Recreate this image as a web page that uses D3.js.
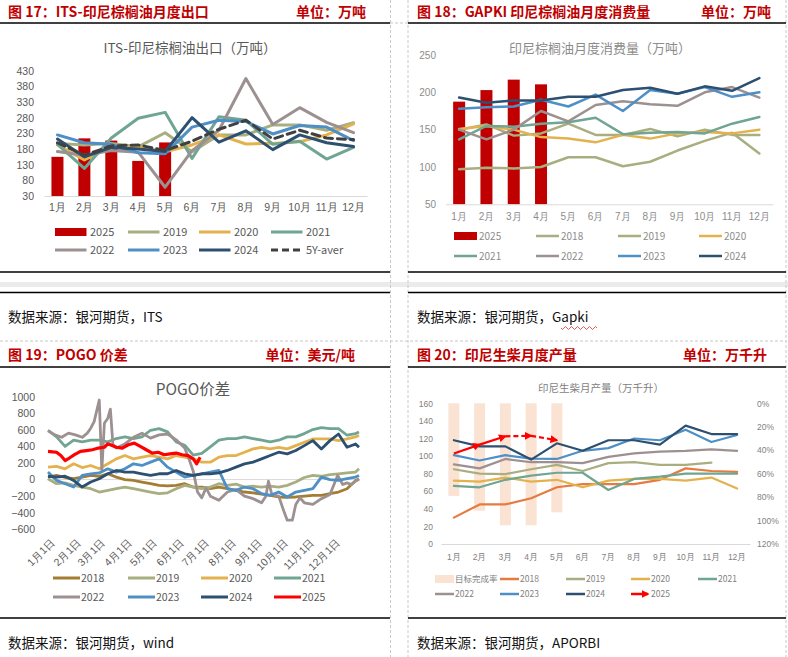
<!DOCTYPE html>
<html>
<head>
<meta charset="utf-8">
<script src="https://cdn.jsdelivr.net/npm/d3@7"></script>
<style>
  body { margin: 0; background: #fff; }
  svg { display: block; font-family: "Noto Sans CJK SC", "Noto Sans", sans-serif; }
</style>
</head>
<body>
<svg id="chart" width="788" height="657"></svg>
<script>
const months = ["1月", "2月", "3月", "4月", "5月", "6月", "7月", "8月", "9月", "10月", "11月", "12月"];

// fig 17: ITS export
const its2025 = [155, 214, 207, 142, 201];
const its2019 = [198, 193, 198, 187, 232, 171, 225, 225, 257, 257, 240, 264];
const its2020 = [193, 145, 187, 187, 171, 193, 225, 196, 198, 203, 225, 260];
const its2021 = [195, 118, 215, 278, 297, 150, 283, 272, 195, 205, 148, 185];
const its2022 = [172, 160, 175, 170, 58, 175, 240, 405, 258, 312, 265, 232];
const its2023 = [225, 200, 195, 168, 165, 250, 272, 268, 228, 255, 250, 207];
const its2024 = [212, 155, 185, 180, 172, 280, 202, 238, 178, 225, 200, 188];
const its5y = [200, 160, 190, 193, 175, 205, 243, 272, 212, 240, 215, 210];
const itsTicks = [30, 80, 130, 180, 230, 280, 330, 380, 430];

// fig 18: GAPKI consumption
const gap2025 = [187.5, 203, 217, 210.7];
const gap2018 = [97, 99, 98, 100, 113, 113, 101, 107, 122, 135, 146, 118];
const gap2019 = [150, 157, 142, 145, 158, 143, 143, 151, 141, 150, 143, 143];
const gap2020 = [151, 155, 150, 140, 138, 133, 143, 138, 145, 147, 145, 150];
const gap2021 = [137, 155, 154, 158, 160, 166, 144, 146, 147, 145, 158, 167];
const gap2022 = [150, 137, 150, 175, 161, 183, 188, 184, 182, 200, 207, 193];
const gap2023 = [178, 180, 181, 190, 181, 197, 175, 203, 198, 207, 194, 200];
const gap2024 = [193, 186, 189, 189, 194, 194, 203, 206, 198, 208, 202, 219];
const gapTicks = [50, 100, 150, 200, 250];

// fig 19: POGO spread (day of year)
const pogoDays = [0, 10, 20, 30, 40, 50, 60, 70, 80, 90, 100, 110, 120, 130, 140, 150, 160, 170, 180, 190,
  200, 210, 220, 230, 240, 250, 260, 270, 280, 290, 300, 310, 320, 330, 340, 350, 360, 364];
const pogo2018 = [30, 50, 25, 10, 30, 50, 40, 70, 30, 0, -10, -30, -50, -70, -75, -70, -50, -90, -90, -110,
  -90, -110, -130, -150, -160, -175, -190, -210, -215, -210, -200, -190, -190, -170, -150, -110, -10, 0];
const pogo2019 = [10, -50, -40, -70, -90, -110, -150, -130, -110, -90, -110, -130, -150, -170, -160, -110, -70, -90, -110, -90,
  -50, -70, -55, -90, -80, -90, -80, -90, -70, -30, 25, 50, 40, 60, 70, 80, 90, 130];
const pogo2020 = [150, 160, 130, 190, 145, 170, 130, 190, 250, 290, 250, 270, 290, 270, 250, 290, 270, 250, 210, 210,
  270, 290, 290, 330, 370, 390, 370, 390, 370, 410, 450, 490, 490, 490, 470, 490, 515, 535];
const pogo2021 = [595, 515, 400, 475, 455, 475, 475, 455, 495, 515, 495, 515, 595, 615, 575, 455, 415, 295, 315, 395,
  475, 495, 495, 515, 495, 475, 455, 475, 515, 515, 555, 603, 627, 615, 615, 535, 555, 575];
const pogo2023 = [90, -10, -50, -90, 50, 70, 80, 130, 90, 130, 190, 170, 210, 250, 150, 90, 30, 50, 70, 90,
  110, -110, -130, -90, -110, -170, -190, -150, -210, -150, -130, -110, 30, 0, -10, 10, 30, 50];
const pogo2024 = [40, 30, 40, -10, -90, -30, 10, 70, 110, 90, 90, 70, 50, 70, 70, 110, 70, 50, 70, 70,
  80, 110, 150, 190, 210, 250, 290, 330, 310, 350, 410, 470, 370, 470, 550, 390, 430, 390];
const pogo22Days = [0, 8, 16, 24, 32, 40, 46, 50, 54, 57, 60, 63, 66, 70, 73, 76, 80, 90, 100, 110,
  120, 130, 140, 150, 160, 165, 170, 175, 180, 185, 190, 200, 210, 220, 230, 240, 250, 255, 258, 262,
  270, 276, 280, 286, 290, 295, 300, 310, 320, 330, 339, 345, 350, 355, 360, 364];
const pogo2022 = [590, 540, 510, 560, 540, 510, 560, 620, 700, 830, 960, 110, 680, 740, 850, 420, 380, 430, 510, 560,
  500, 540, 550, 480, 380, 250, 100, -150, -220, -100, -200, -250, -150, -120, -200, -230, -280, -200, -20, -180,
  -200, -380, -490, -490, -300, -220, -280, -300, -230, -180, 50, -60, -40, -60, -20, 10];
const pogo25Days = [0, 5, 10, 15, 20, 25, 31, 38, 45, 52, 59, 66, 70, 73, 80, 87, 94, 101, 108, 115,
  122, 129, 136, 143, 150, 157, 164, 170, 174, 178];
const pogo2025 = [340, 335, 330, 290, 230, 260, 300, 340, 350, 360, 380, 390, 430, 420, 390, 380, 420, 440, 400, 360,
  320, 330, 300, 310, 320, 300, 290, 250, 190, 270];
const pogoTickDays = [0, 31, 59, 90, 120, 151, 181, 212, 243, 273, 304, 334];
const pogoTickLabels = ["1月1日", "2月1日", "3月1日", "4月1日", "5月1日", "6月1日", "7月1日", "8月1日", "9月1日", "10月1日", "11月1日", "12月1日"];
const pogoTicks = [-600, -400, -200, 0, 200, 400, 600, 800, 1000];

// fig 20: biodiesel output
const bioTarget = [0.79, 0.916, 1.04, 1.04, 0.93];
const bio2018 = [30, 45, 45, 52, 64.5, 68, 68, 68, 73, 86, 83, 82];
const bio2019 = [85, 80, 79.5, 85, 90, 83, 92, 93, 90, 90, 92.5];
const bio2020 = [72, 71, 75.5, 71, 73, 64.5, 72, 74, 74, 72, 75.5, 63];
const bio2021 = [66, 64.5, 73, 77.7, 81, 81, 61.4, 74, 76.6, 80, 80, 80];
const bio2022 = [90.6, 86, 96.7, 93, 93, 92, 99, 103, 105, 106, 107.7, 106];
const bio2023 = [101, 95, 101, 97, 96.7, 106, 109, 120, 118, 130, 116, 124];
const bio2024 = [118, 111, 111, 96, 114.5, 106, 118, 118, 113, 134.6, 125, 125];
const bio2025 = [103, 113, 122.5, 123, 118];
const bioTicks = [0, 20, 40, 60, 80, 100, 120, 140, 160];
const bioPctTicks = [0, 0.2, 0.4, 0.6, 0.8, 1.0, 1.2];

const C = {
  red: "#c00000", y2018: "#a47c33", olive: "#a9ae80", gold: "#e3b24f", teal: "#6fa592",
  mauve: "#9d9090", blue: "#4e8fc6", navy: "#2d4f70", orange: "#e57b3f", peach: "#fbe3d4"
};

const svg = d3.select("#chart");

// ---------- frame ----------
const frame = svg.append("g");
frame.append("rect").attr("x", 0).attr("y", 282).attr("width", 788).attr("height", 5).attr("fill", "#ebebeb");
for (const x of [390.5, 408, 786]) {
  frame.append("line").attr("x1", x).attr("x2", x).attr("y1", 0).attr("y2", 657)
    .attr("stroke", "#c8c8c8").attr("stroke-dasharray", "3 2");
}
frame.append("line").attr("x1", 0).attr("x2", 786).attr("y1", 341).attr("y2", 341)
  .attr("stroke", "#c8c8c8").attr("stroke-dasharray", "3 2");
frame.append("line").attr("x1", 390).attr("x2", 408).attr("y1", 23).attr("y2", 23)
  .attr("stroke", "#c8c8c8").attr("stroke-dasharray", "3 2");
for (const [a, b] of [[0, 390], [408, 786]]) {
  for (const y of [23, 272, 292.5, 367, 618]) {
    frame.append("line").attr("x1", a).attr("x2", b).attr("y1", y).attr("y2", y)
      .attr("stroke", "#000").attr("stroke-width", 1.3);
  }
}

function header(x, xr, y, title, unit) {
  svg.append("text").attr("x", x).attr("y", y).attr("dy", "0.35em")
    .attr("fill", C.red).attr("font-weight", "bold").attr("font-size", 14).text(title);
  svg.append("text").attr("x", xr).attr("y", y).attr("dy", "0.35em").attr("text-anchor", "end")
    .attr("fill", C.red).attr("font-weight", "bold").attr("font-size", 14).text(unit);
}
header(8, 366, 12, "图 17：ITS-印尼棕榈油月度出口", "单位：万吨");
header(417, 771, 12, "图 18：GAPKI 印尼棕榈油月度消费量", "单位：万吨");
header(8, 355, 355, "图 19：POGO 价差", "单位：美元/吨");
header(417, 767, 355, "图 20：印尼生柴月度产量", "单位：万千升");

function source(x, y, txt) {
  return svg.append("text").attr("x", x).attr("y", y).attr("dy", "0.35em")
    .attr("font-size", 13.5).attr("fill", "#111").text(txt);
}
source(8, 317, "数据来源：银河期货，ITS");
source(417, 317, "数据来源：银河期货，Gapki");
source(8, 643, "数据来源：银河期货，wind");
source(417, 643, "数据来源：银河期货，APORBI");
// spell-check squiggle under "Gapki"
{
  let d = "M561,328";
  for (let i = 0; i < 12; i++) d += `l1.5,${i % 2 ? -1.5 : 1.5}l1.5,${i % 2 ? 1.5 : -1.5}`;
  svg.append("path").attr("d", d).attr("fill", "none").attr("stroke", "#e03030").attr("stroke-width", 0.8);
}

function styleAxis(g, size, color) {
  g.selectAll("text").attr("font-size", size).attr("fill", color).attr("font-family", null);
  g.selectAll(".tick line").remove();
}

function monthLine(g, x, y, values, color, width, dash) {
  const line = d3.line().x((d, i) => x(months[i]) + x.bandwidth() / 2).y(d => y(d));
  g.append("path").datum(values).attr("fill", "none").attr("stroke", color)
    .attr("stroke-width", width).attr("stroke-linejoin", "round").attr("stroke-linecap", "round")
    .attr("stroke-dasharray", dash || null).attr("d", line);
}

function legend(g, items, cols, rows, sw, gap, size, color, lw) {
  items.forEach((it, i) => {
    const x0 = cols[i % cols.length], y0 = rows[Math.floor(i / cols.length)];
    if (it.type === "bar") {
      g.append("rect").attr("x", x0).attr("y", y0 - 4).attr("width", sw).attr("height", 8).attr("fill", it.color);
    } else if (it.type === "arrow") {
      g.append("line").attr("x1", x0).attr("x2", x0 + sw - 2).attr("y1", y0).attr("y2", y0)
        .attr("stroke", it.color).attr("stroke-width", lw).attr("marker-end", "url(#arrowRed)");
    } else {
      g.append("line").attr("x1", x0).attr("x2", x0 + sw).attr("y1", y0).attr("y2", y0)
        .attr("stroke", it.color).attr("stroke-width", lw).attr("stroke-dasharray", it.dash || null);
    }
    g.append("text").attr("x", x0 + gap).attr("y", y0).attr("dy", "0.35em")
      .attr("font-size", size).attr("fill", color).text(it.name);
  });
}

// ---------- fig 17 ----------
{
  const g = svg.append("g");
  const x = d3.scaleBand().domain(months).range([44, 367]);
  const y = d3.scaleLinear().domain([30, 430]).range([196, 70.7]);
  g.append("text").attr("x", 190).attr("y", 48).attr("dy", "0.35em").attr("text-anchor", "middle")
    .attr("font-size", 13.5).attr("fill", "#595959").text("ITS-印尼棕榈油出口（万吨）");
  const ay = g.append("g").attr("transform", "translate(37,0)")
    .call(d3.axisLeft(y).tickValues(itsTicks).tickSize(0).tickPadding(3));
  ay.select(".domain").remove();
  styleAxis(ay, 10.5, "#595959");
  g.selectAll("rect.bar").data(its2025).join("rect").attr("class", "bar")
    .attr("x", (d, i) => x(months[i]) + x.bandwidth() / 2 - 6).attr("width", 12)
    .attr("y", d => y(d)).attr("height", d => y(30) - y(d)).attr("fill", C.red);
  const ax = g.append("g").attr("transform", "translate(0,196)")
    .call(d3.axisBottom(x).tickSize(0).tickPadding(8));
  ax.select(".domain").attr("stroke", "#d9d9d9");
  styleAxis(ax, 10.5, "#595959");
  monthLine(g, x, y, its2019, C.olive, 3);
  monthLine(g, x, y, its2020, C.gold, 3);
  monthLine(g, x, y, its2021, C.teal, 3);
  monthLine(g, x, y, its2022, C.mauve, 3);
  monthLine(g, x, y, its2023, C.blue, 3);
  monthLine(g, x, y, its2024, C.navy, 3);
  monthLine(g, x, y, its5y, "#404040", 3, "8 5");
  legend(g, [
    { name: "2025", type: "bar", color: C.red }, { name: "2019", color: C.olive },
    { name: "2020", color: C.gold }, { name: "2021", color: C.teal },
    { name: "2022", color: C.mauve }, { name: "2023", color: C.blue },
    { name: "2024", color: C.navy }, { name: "5Y-aver", color: "#404040", dash: "7 4" }
  ], [55, 128, 199, 271], [232, 250], 31.5, 35, 11, "#595959", 3);
}

// ---------- fig 18 ----------
{
  const g = svg.append("g");
  const x = d3.scaleBand().domain(months).range([445.5, 773]);
  const y = d3.scaleLinear().domain([50, 250]).range([204.3, 55]);
  g.append("text").attr("x", 600).attr("y", 48).attr("dy", "0.35em").attr("text-anchor", "middle")
    .attr("font-size", 13).attr("fill", "#8c8c8c").text("印尼棕榈油月度消费量（万吨）");
  const ay = g.append("g").attr("transform", "translate(439,0)")
    .call(d3.axisLeft(y).tickValues(gapTicks).tickSize(0).tickPadding(3));
  ay.select(".domain").remove();
  styleAxis(ay, 10, "#8c8c8c");
  g.selectAll("rect.bar").data(gap2025).join("rect").attr("class", "bar")
    .attr("x", (d, i) => x(months[i]) + x.bandwidth() / 2 - 6).attr("width", 12)
    .attr("y", d => y(d)).attr("height", d => y(50) - y(d)).attr("fill", C.red);
  const ax = g.append("g").attr("transform", "translate(0,204.3)")
    .call(d3.axisBottom(x).tickSize(0).tickPadding(9));
  ax.select(".domain").attr("stroke", "#d9d9d9");
  styleAxis(ax, 10, "#8c8c8c");
  monthLine(g, x, y, gap2018, C.olive, 2.5);
  monthLine(g, x, y, gap2019, C.olive, 2.5);
  monthLine(g, x, y, gap2020, C.gold, 2.5);
  monthLine(g, x, y, gap2021, C.teal, 2.5);
  monthLine(g, x, y, gap2022, C.mauve, 2.5);
  monthLine(g, x, y, gap2023, C.blue, 2.5);
  monthLine(g, x, y, gap2024, C.navy, 2.5);
  legend(g, [
    { name: "2025", type: "bar", color: C.red }, { name: "2018", color: C.olive },
    { name: "2019", color: C.olive }, { name: "2020", color: C.gold },
    { name: "2021", color: C.teal }, { name: "2022", color: C.mauve },
    { name: "2023", color: C.blue }, { name: "2024", color: C.navy }
  ], [454, 536, 618, 699], [236, 256], 23, 25, 10, "#8c8c8c", 2.5);
}

// ---------- fig 19 ----------
{
  const g = svg.append("g");
  const x = d3.scaleLinear().domain([0, 364]).range([48, 359]);
  const y = d3.scaleLinear().domain([-600, 1000]).range([529.3, 396.7]);
  g.append("text").attr("x", 193).attr("y", 390).attr("dy", "0.35em").attr("text-anchor", "middle")
    .attr("font-size", 15.5).attr("fill", "#595959").text("POGO价差");
  const ay = g.append("g").attr("transform", "translate(38,0)")
    .call(d3.axisLeft(y).tickValues(pogoTicks).tickSize(0).tickPadding(3).tickFormat(d3.format("d")));
  ay.select(".domain").remove();
  styleAxis(ay, 10.5, "#595959");
  g.append("line").attr("x1", 47).attr("x2", 360).attr("y1", y(0)).attr("y2", y(0)).attr("stroke", "#d9d9d9");
  const ax = g.append("g").attr("transform", "translate(0,533)")
    .call(d3.axisBottom(x).tickValues(pogoTickDays).tickSize(0).tickFormat((d, i) => pogoTickLabels[i]));
  ax.select(".domain").remove();
  ax.selectAll("text").attr("font-size", 10.5).attr("fill", "#595959").attr("font-family", null)
    .attr("text-anchor", "end").attr("transform", "translate(1,4) rotate(-45)").attr("y", 0).attr("dy", "0.8em");
  const series = [
    [pogoDays, pogo2018, C.y2018], [pogoDays, pogo2019, C.olive], [pogoDays, pogo2020, C.gold],
    [pogoDays, pogo2021, C.teal], [pogo22Days, pogo2022, C.mauve], [pogoDays, pogo2023, C.blue],
    [pogoDays, pogo2024, C.navy], [pogo25Days, pogo2025, "#ff0000"]
  ];
  for (const [days, vals, color] of series) {
    const line = d3.line().x((d, i) => x(days[i])).y(d => y(d));
    g.append("path").datum(vals).attr("fill", "none").attr("stroke", color)
      .attr("stroke-width", color === "#ff0000" ? 3.2 : 2.8).attr("stroke-linejoin", "round").attr("d", line);
  }
  legend(g, [
    { name: "2018", color: C.y2018 }, { name: "2019", color: C.olive },
    { name: "2020", color: C.gold }, { name: "2021", color: C.teal },
    { name: "2022", color: C.mauve }, { name: "2023", color: C.blue },
    { name: "2024", color: C.navy }, { name: "2025", color: "#ff0000" }
  ], [53, 128, 201, 274], [578, 597], 27, 28, 10.5, "#595959", 3);
}

// ---------- fig 20 ----------
{
  const defs = svg.append("defs");
  defs.append("marker").attr("id", "arrowRed").attr("viewBox", "0 0 10 10").attr("refX", 8).attr("refY", 5)
    .attr("markerWidth", 8).attr("markerHeight", 8).attr("markerUnits", "userSpaceOnUse").attr("orient", "auto")
    .append("path").attr("d", "M0,0L10,5L0,10z").attr("fill", "#ff0000");

  const g = svg.append("g");
  const x = d3.scaleBand().domain(months).range([441, 750]);
  const yL = d3.scaleLinear().domain([0, 160]).range([544, 403.3]);
  const yR = d3.scaleLinear().domain([0, 1.2]).range([403.3, 544]);
  g.append("text").attr("x", 601).attr("y", 388).attr("dy", "0.35em").attr("text-anchor", "middle")
    .attr("font-size", 10.5).attr("fill", "#7f7f7f").text("印尼生柴月产量（万千升）");
  const ay = g.append("g").attr("transform", "translate(436,0)")
    .call(d3.axisLeft(yL).tickValues(bioTicks).tickSize(0).tickPadding(3));
  ay.select(".domain").remove();
  styleAxis(ay, 8.5, "#7f7f7f");
  const ar = g.append("g").attr("transform", "translate(754,0)")
    .call(d3.axisRight(yR).tickValues(bioPctTicks).tickSize(0).tickPadding(3).tickFormat(d3.format(".0%")));
  ar.select(".domain").remove();
  styleAxis(ar, 8.5, "#7f7f7f");
  g.selectAll("rect.bar").data(bioTarget).join("rect").attr("class", "bar")
    .attr("x", (d, i) => x(months[i]) + x.bandwidth() / 2 - 5.5).attr("width", 11)
    .attr("y", yR(0)).attr("height", d => yR(d) - yR(0)).attr("fill", C.peach);
  const ax = g.append("g").attr("transform", "translate(0,544)")
    .call(d3.axisBottom(x).tickSize(0).tickPadding(10));
  ax.select(".domain").attr("stroke", "#d9d9d9");
  styleAxis(ax, 8.5, "#7f7f7f");
  monthLine(g, x, yL, bio2018, C.orange, 2.2);
  monthLine(g, x, yL, bio2019, C.olive, 2.2);
  monthLine(g, x, yL, bio2020, C.gold, 2.2);
  monthLine(g, x, yL, bio2021, C.teal, 2.2);
  monthLine(g, x, yL, bio2022, C.mauve, 2.2);
  monthLine(g, x, yL, bio2023, C.blue, 2.2);
  monthLine(g, x, yL, bio2024, C.navy, 2.2);
  const cx = i => x(months[i]) + x.bandwidth() / 2;
  for (let i = 1; i < bio2025.length; i++) {
    g.append("line").attr("x1", cx(i - 1)).attr("y1", yL(bio2025[i - 1]))
      .attr("x2", cx(i)).attr("y2", yL(bio2025[i]))
      .attr("stroke", "#ff0000").attr("stroke-width", 2.2)
      .attr("stroke-dasharray", i > 2 ? "5 3" : null).attr("marker-end", "url(#arrowRed)");
  }
  legend(g, [
    { name: "目标完成率", type: "bar", color: C.peach }, { name: "2018", color: C.orange },
    { name: "2019", color: C.olive }, { name: "2020", color: C.gold },
    { name: "2021", color: C.teal }, { name: "2022", color: C.mauve },
    { name: "2023", color: C.blue }, { name: "2024", color: C.navy },
    { name: "2025", type: "arrow", color: "#ff0000" }
  ], [435, 500, 566, 631, 698], [579, 594], 19, 20, 8.5, "#7f7f7f", 2.5);
}
</script>
</body>
</html>
